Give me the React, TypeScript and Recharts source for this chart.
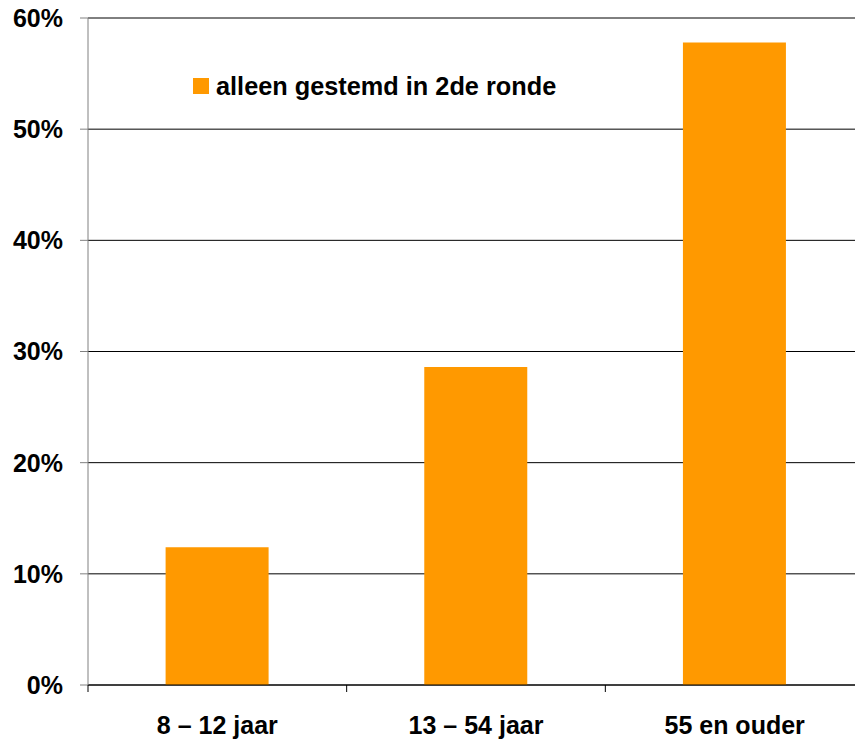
import React from "react";
import { BarChart, Bar, XAxis, YAxis, CartesianGrid, Legend } from "recharts";

const categories = ["8 – 12 jaar", "13 – 54 jaar", "55 en ouder"];
const alleenGestemd = [12.4, 28.6, 57.8];
const yTicks = [0, 10, 20, 30, 40, 50, 60];
const seriesName = "alleen gestemd in 2de ronde";

const FONT = "'Liberation Sans', Arial, sans-serif";
const ORANGE = "#FF9900";

const data = categories.map((name, i) => ({ name, value: alleenGestemd[i] }));

function XTick(props: any) {
  const { x, y, payload } = props;
  const off = payload.offset ?? 129.33;
  return (
    <g>
      <line x1={x - off} x2={x - off} y1={y - 31} y2={y - 24} stroke="#000" />
      <text x={x} y={y} dy="0.71em" textAnchor="middle" fill="#000"
        style={{ fontSize: 25, fontWeight: "bold", fontFamily: FONT }}>
        {payload.value}
      </text>
    </g>
  );
}

function LegendBox(props: any) {
  const items = props.payload || [];
  return (
    <div style={{ display: "flex", alignItems: "center" }}>
      {items.map((p: any) => (
        <React.Fragment key={p.value}>
          <span style={{ display: "inline-block", width: 16, height: 16, background: ORANGE, marginRight: 7 }} />
          <span style={{ fontSize: 25.3, fontWeight: "bold", fontFamily: FONT, color: "#000", lineHeight: "28px" }}>
            {p.value}
          </span>
        </React.Fragment>
      ))}
    </div>
  );
}

export default function App() {
  return (
    <div style={{ position: "absolute", left: 0, top: 0, width: 855, height: 739, overflow: "hidden", background: "#fff" }}>
      <BarChart width={870} height={739} data={data} barCategoryGap="30%"
        margin={{ top: 18, right: 6, left: 0, bottom: 0 }}>
        <CartesianGrid vertical={false} stroke="#000" />
        <XAxis dataKey="name" height={54} axisLine={{ stroke: "#000" }} tickLine={false}
          tickSize={0} tickMargin={31} tick={<XTick />} interval={0} />
        <YAxis width={88} domain={[0, 60]} ticks={yTicks} tickFormatter={(v) => `${v}%`}
          axisLine={{ stroke: "#808080" }} tickLine={{ stroke: "#808080" }} tickSize={8} tickMargin={17}
          tick={{ fontSize: 25, fontWeight: "bold", fill: "#000", fontFamily: FONT }} />
        <Legend layout="vertical" verticalAlign="middle" align="center" content={<LegendBox />}
          wrapperStyle={{ left: 193, top: 72, width: "auto", height: "auto" }} />
        <Bar dataKey="value" name={seriesName} fill={ORANGE} isAnimationActive={false} />
      </BarChart>
    </div>
  );
}
